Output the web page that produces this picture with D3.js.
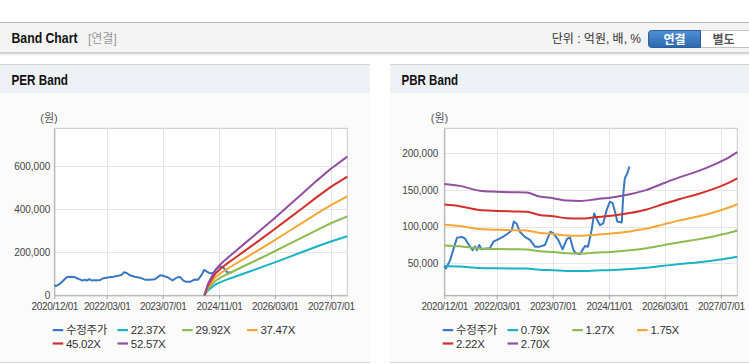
<!DOCTYPE html>
<html>
<head>
<meta charset="utf-8">
<script src="https://cdn.jsdelivr.net/npm/d3@7"></script>
<style>
  body { margin: 0; background: #fff; }
  svg text { font-family: "Liberation Sans", "Noto Sans CJK KR", sans-serif; }
</style>
</head>
<body>
<div id="chart"></div>
<script>
// x axis
const tickLabels = ["2020/12/01", "2022/03/01", "2023/07/01", "2024/11/01", "2026/03/01", "2027/07/01"];
const xDomain = ["2020-12-01", "2027-11-21"];

// 수정주가
const priceDates = ["2020-12-01", "2020-12-15", "2021-01-20", "2021-02-20", "2021-03-22", "2021-05-01", "2021-05-28",
  "2021-07-04", "2021-08-04", "2021-08-25", "2021-09-10", "2021-10-01", "2021-10-20", "2021-11-15", "2022-01-01",
  "2022-02-01", "2022-03-13", "2022-04-28", "2022-06-10", "2022-07-10", "2022-07-28", "2022-08-22", "2022-09-18",
  "2022-11-01", "2022-12-15", "2023-01-28", "2023-03-10", "2023-04-25", "2023-06-10", "2023-07-05", "2023-08-18",
  "2023-09-25", "2023-11-01", "2023-11-28", "2023-12-28", "2024-01-18", "2024-02-25", "2024-03-15", "2024-04-06",
  "2024-05-03", "2024-06-03", "2024-06-25", "2024-07-22", "2024-08-15", "2024-09-12", "2024-10-12", "2024-11-09",
  "2024-12-03", "2024-12-24", "2025-01-12", "2025-02-20", "2025-03-07", "2025-03-19", "2025-04-10", "2025-04-28"];
const priceValues = [47000, 43000, 54000, 70000, 85000, 86000, 84000,
  75000, 68000, 73000, 68000, 75000, 69000, 70000, 70500,
  79500, 82700, 86400, 91000, 95000, 107000, 104000, 93000,
  86000, 82000, 72700, 72700, 75000, 93000, 91000, 82000,
  69000, 83000, 85500, 68000, 63600, 62700, 68000, 73600,
  72700, 95000, 118000, 109000, 102000, 104500, 122700, 134000,
  132000, 120000, 107000, 105500, 148000, 166000, 173000, 182000];
const perPriceLast = "2025-02-20";   // PER 쪽 주가선은 여기까지만 보임

// PER band : EPS x 배수
const epsDates = ["2024-06-27", "2024-07-28", "2024-09-01", "2024-10-01", "2024-11-10", "2025-01-01", "2025-03-01",
  "2025-07-01", "2025-11-01", "2026-03-01", "2026-07-01", "2026-11-01", "2027-03-01", "2027-07-01", "2027-11-21"];
const epsValues = [0, 1000, 1700, 2250, 2700, 3200, 3700, 4750, 5800, 6850, 7950, 9050, 10150, 11200, 12270];
const perMultiples = [22.37, 29.92, 37.47, 45.02, 52.57];
const perYTicks = [0, 200000, 400000, 600000];
const perYDomain = [0, 777000];

// PBR band : BPS x 배수
const bpsDates = ["2020-12-01", "2021-04-15", "2021-10-05", "2022-03-01", "2022-07-20", "2022-11-15", "2023-03-10",
  "2023-07-05", "2023-11-01", "2024-02-25", "2024-07-15", "2024-12-10", "2025-05-01", "2025-09-25", "2026-02-18",
  "2026-07-10", "2026-12-03", "2027-04-28", "2027-09-20", "2027-11-21"];
const bpsValues = [58600, 57600, 55200, 54700, 54400, 54200, 52200, 51400, 50200, 50000, 50900, 51900, 53400,
  55600, 58900, 62000, 64800, 68200, 72400, 74600];
const pbrMultiples = [0.79, 1.27, 1.75, 2.22, 2.70];
const pbrYTicks = [50000, 100000, 150000, 200000];
const pbrYDomain = [6400, 234000];

const priceColor = "#3a78c4";
const bandColors = ["#1cb2c5", "#8dbb52", "#f4a735", "#d3302b", "#904f9f"];

let width = 749;
let height = 364;
let parse = d3.timeParse("%Y-%m-%d");
let tickParse = d3.timeParse("%Y/%m/%d");

let svg = d3.select('#chart').append('svg')
  .attr('width', width).attr('height', height);

// ---- top header bar
svg.append('rect').attr('x', 0).attr('y', 22).attr('width', width).attr('height', 31).attr('fill', '#f4f4f4');
svg.append('line').attr('x1', 0).attr('x2', width).attr('y1', 22.5).attr('y2', 22.5).attr('stroke', '#b8b8b8');
svg.append('line').attr('x1', 0).attr('x2', width).attr('y1', 53).attr('y2', 53).attr('stroke', '#c4c4c4').attr('stroke-width', 1.5);
svg.append('line').attr('x1', 0).attr('x2', width).attr('y1', 54.5).attr('y2', 54.5).attr('stroke', '#ececec').attr('stroke-width', 1.5);

svg.append('text').text('Band Chart')
  .attr('x', 11.5).attr('y', 43).attr('font-size', 14).attr('font-weight', 'bold').attr('fill', '#111')
  .attr('textLength', 66).attr('lengthAdjust', 'spacingAndGlyphs');
svg.append('text').text('[연결]')
  .attr('x', 88).attr('y', 42.5).attr('font-size', 12).attr('fill', '#999');
svg.append('text').text('단위 : 억원, 배, %')
  .attr('x', 641).attr('y', 42.5).attr('font-size', 12).attr('fill', '#333').attr('text-anchor', 'end');

let grad = svg.append('defs').append('linearGradient').attr('id', 'btnBlue')
  .attr('x1', 0).attr('x2', 0).attr('y1', 0).attr('y2', 1);
grad.append('stop').attr('offset', '0%').attr('stop-color', '#4f8fd3');
grad.append('stop').attr('offset', '100%').attr('stop-color', '#2c68ad');

svg.append('rect').attr('x', 700.5).attr('y', 30.5).attr('width', 52).attr('height', 17)
  .attr('fill', '#fff').attr('stroke', '#c2c2c2');
svg.append('path')
  .attr('d', 'M700.5,30.5 H651.5 Q648.5,30.5 648.5,33.5 V44.5 Q648.5,47.5 651.5,47.5 H700.5 Z')
  .attr('fill', 'url(#btnBlue)').attr('stroke', '#2a5f9f');
svg.append('text').text('연결').attr('x', 674.5).attr('y', 43.5).attr('font-size', 12).attr('font-weight', 'bold')
  .attr('fill', '#fff').attr('text-anchor', 'middle');
svg.append('text').text('별도').attr('x', 723.5).attr('y', 43.5).attr('font-size', 12).attr('font-weight', 'bold')
  .attr('fill', '#555').attr('text-anchor', 'middle');

// ---- one panel
function drawPanel(opt) {
  let g = svg.append('g');
  g.append('rect').attr('x', opt.x0).attr('y', 64).attr('width', opt.w).attr('height', 298).attr('fill', '#fbfbfb');
  g.append('rect').attr('x', opt.x0).attr('y', 64).attr('width', opt.w).attr('height', 29).attr('fill', '#eef1f6');
  g.append('line').attr('x1', opt.x0).attr('x2', opt.x0 + opt.w).attr('y1', 64.5).attr('y2', 64.5).attr('stroke', '#d4d4d4');
  g.append('line').attr('x1', opt.x0).attr('x2', opt.x0 + opt.w).attr('y1', 362.5).attr('y2', 362.5).attr('stroke', '#d6d6d6');
  g.append('text').text(opt.title)
    .attr('x', opt.x0 + 11.5).attr('y', 85).attr('font-size', 14).attr('font-weight', 'bold').attr('fill', '#111')
    .attr('textLength', opt.titleLen).attr('lengthAdjust', 'spacingAndGlyphs');

  let left = opt.x0 + 54.3, right = opt.x0 + 347.3, top = 128.3, bottom = 295.3;
  let xScale = d3.scaleTime().domain(xDomain.map(parse)).range([left, right]);
  let yScale = d3.scaleLinear().domain(opt.yDomain).range([bottom, top]);
  let tickDates = tickLabels.map(tickParse);

  g.append('rect').attr('x', left).attr('y', top).attr('width', right - left).attr('height', bottom - top)
    .attr('fill', '#fff').attr('stroke', '#c9c9c9');

  // grid
  g.append('g').selectAll('line').data(tickDates).enter().append('line')
    .attr('x1', d => Math.round(xScale(d)) + 0.5).attr('x2', d => Math.round(xScale(d)) + 0.5)
    .attr('y1', top).attr('y2', bottom).attr('stroke', '#e6e6e6');
  g.append('g').selectAll('line').data(opt.yTicks).enter().append('line')
    .attr('x1', left).attr('x2', right)
    .attr('y1', d => Math.round(yScale(d)) + 0.5).attr('y2', d => Math.round(yScale(d)) + 0.5)
    .attr('stroke', '#e6e6e6');

  // axes
  let xAxis = d3.axisBottom(xScale).tickValues(tickDates).tickFormat(d3.timeFormat('%Y/%m/%d'))
    .tickSize(4).tickPadding(4).tickSizeOuter(0);
  let xg = g.append('g').attr('transform', 'translate(0,' + bottom + ')').call(xAxis);
  xg.select('.domain').attr('stroke', '#a8a8a8');
  xg.selectAll('.tick line').attr('stroke', '#a8a8a8');
  xg.selectAll('text').attr('font-size', 10).attr('fill', '#444').attr('letter-spacing', -0.35)
    .style('font-family', '"Liberation Sans", sans-serif');

  let yAxis = d3.axisLeft(yScale).tickValues(opt.yTicks).tickFormat(d3.format(',')).tickSize(0).tickPadding(opt.yPad);
  let yg = g.append('g').attr('transform', 'translate(' + left + ',0)').call(yAxis);
  yg.select('.domain').attr('stroke', '#a8a8a8');
  yg.selectAll('text').attr('font-size', 10).attr('fill', '#444')
    .style('font-family', '"Liberation Sans", sans-serif');

  g.append('text').text('(원)').attr('x', opt.x0 + opt.unitX).attr('y', 122).attr('font-size', 11)
    .attr('fill', '#555').attr('text-anchor', 'middle');

  let line = d3.line().x(d => xScale(d.date)).y(d => yScale(d.value));

  // 주가 먼저, 밴드는 위에
  let price = priceDates.map((d, i) => ({ date: parse(d), value: priceValues[i] }))
    .filter(d => d.date <= parse(opt.priceLast));
  g.append('path').datum(price).attr('d', line)
    .attr('fill', 'none').attr('stroke', priceColor).attr('stroke-width', 2).attr('stroke-linejoin', 'round');

  let bandLine = d3.line().x(d => xScale(d.date)).y(d => yScale(d.value)).curve(opt.curve);
  opt.multiples.forEach((m, k) => {
    let band = opt.baseDates.map((d, i) => ({ date: parse(d), value: opt.baseValues[i] * m }));
    g.append('path').datum(band).attr('d', bandLine)
      .attr('fill', 'none').attr('stroke', bandColors[k]).attr('stroke-width', 2).attr('stroke-linejoin', 'round');
  });

  // legend
  let items = [{ name: '수정주가', color: priceColor }]
    .concat(opt.multiples.map((m, k) => ({ name: m.toFixed(2) + 'X', color: bandColors[k] })));
  let lg = g.append('g').selectAll('g').data(items).enter().append('g')
    .attr('transform', (d, i) => 'translate(' + (opt.x0 + opt.legendX + (i % 4) * 64.8) + ',' + (330 + Math.floor(i / 4) * 13.4) + ')');
  lg.append('rect').attr('x', 0).attr('y', -1).attr('width', 10.5).attr('height', 2.2).attr('fill', d => d.color);
  lg.append('text').text(d => d.name).attr('x', 13.3).attr('y', 4.2).attr('font-size', 11.5)
    .attr('fill', '#333').attr('letter-spacing', -0.3);
}

drawPanel({
  x0: 0, w: 370, title: 'PER Band', titleLen: 56.5,
  yDomain: perYDomain, yTicks: perYTicks, yPad: 4, unitX: 49,
  multiples: perMultiples, baseDates: epsDates, baseValues: epsValues, curve: d3.curveLinear,
  priceLast: perPriceLast, legendX: 52.7
});
drawPanel({
  x0: 390, w: 359, title: 'PBR Band', titleLen: 56.5,
  yDomain: pbrYDomain, yTicks: pbrYTicks, yPad: 6, unitX: 49.5,
  multiples: pbrMultiples, baseDates: bpsDates, baseValues: bpsValues, curve: d3.curveMonotoneX,
  priceLast: priceDates[priceDates.length - 1], legendX: 52.7
});
</script>
</body>
</html>
